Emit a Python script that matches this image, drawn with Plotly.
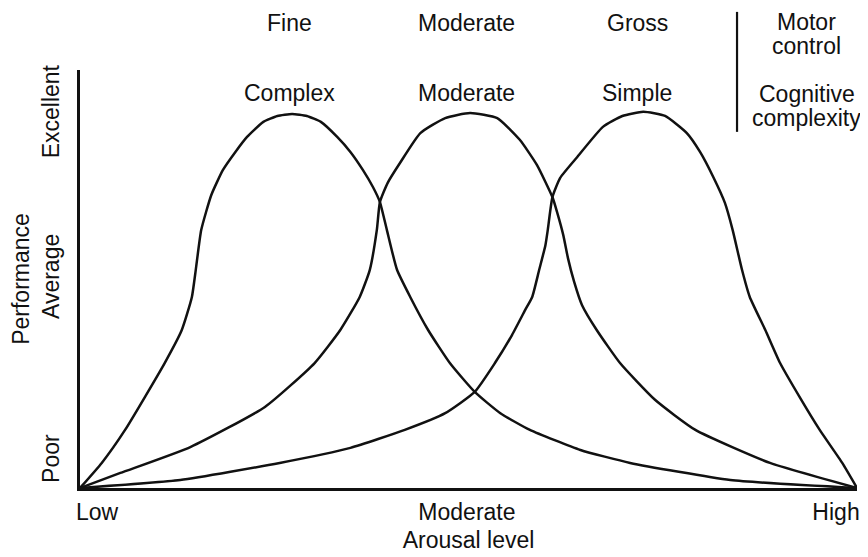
import plotly.graph_objects as go

# arousal (0 = low, 100 = high) vs performance (0 = poor, 100 = top of axis)
complex_x = [0, 2.8, 5.8, 10.9, 13.1, 14.4, 14.9, 15.6, 16.9, 18.4, 20.0, 21.5, 23.6, 25.4,
             27.3, 29.2, 31.0, 33.1, 34.8, 36.4, 37.7, 38.6, 39.5, 40.8, 42.5, 44.8, 47.6,
             50.8, 54.1, 57.9, 64.4, 70.8, 83.7, 100]
complex_y = [0, 6.0, 13.9, 29.9, 37.8, 45.7, 52.2, 61.7, 70.1, 76.1, 80.4, 84.0, 87.6, 89.0,
             89.5, 89.0, 87.6, 84.0, 80.4, 76.1, 72.0, 68.4, 61.7, 52.2, 45.7, 37.8, 29.9,
             23.0, 17.9, 13.9, 9.1, 6.0, 1.9, 0]

moderate_x = [0, 5.2, 14.2, 23.8, 30.2, 33.5, 36.0, 37.3, 38.2, 38.6, 39.6, 41.2, 43.8, 47.0,
              50.2, 53.7, 56.6, 58.8, 60.8, 61.4, 62.2, 62.8, 63.6, 64.6, 66.5, 69.5, 74.0,
              79.2, 88.8, 100]
moderate_y = [0, 3.6, 9.8, 19.4, 29.9, 37.8, 45.7, 52.2, 61.7, 68.4, 73.0, 77.8, 84.9, 88.5,
              89.7, 88.5, 83.3, 77.3, 69.6, 66.0, 60.5, 55.0, 49.3, 43.8, 37.8, 29.9, 21.1,
              13.9, 6.0, 0]

simple_x = [0, 12.9, 25.7, 34.8, 41.8, 47.0, 50.8, 53.4, 55.6, 57.3, 58.2, 59.1, 59.9, 60.2,
            60.8, 61.8, 64.0, 67.3, 69.8, 72.5, 75.3, 78.1, 79.8, 81.5, 83.0, 84.0, 85.2,
            86.2, 88.2, 90.1, 92.7, 95.2, 98.1, 100]
simple_y = [0, 1.9, 6.0, 9.6, 13.9, 17.9, 23.0, 29.9, 36.6, 42.6, 45.7, 52.2, 58.1, 61.7,
            69.6, 74.2, 79.2, 86.4, 89.0, 90.0, 89.0, 84.9, 80.4, 74.4, 68.2, 61.7, 52.2,
            45.7, 37.8, 29.9, 21.5, 13.9, 6.0, 0]

x_tickvals = [2.2, 49.8, 97.3]
x_ticktext = ["Low", "Moderate", "High"]
y_tickvals = [6.2, 49.8, 89.2]
y_ticktext = ["Poor", "Average", "Excellent"]

motor_labels = ["Fine", "Moderate", "Gross"]
cognitive_labels = ["Complex", "Moderate", "Simple"]
label_x = [27.0, 49.8, 71.7]

FONT = "Liberation Sans, Arial, Helvetica, sans-serif"
INK = "#111111"

fig = go.Figure()
for xs, ys in [(complex_x, complex_y), (moderate_x, moderate_y), (simple_x, simple_y)]:
    fig.add_trace(go.Scatter(x=xs, y=ys, mode="lines",
                             line=dict(color=INK, width=2.5, shape="spline", smoothing=0.5),
                             hoverinfo="skip", showlegend=False))

# column headings above the curves (y in paper units, plot top = 1)
for lx, top, mid in zip(label_x, motor_labels, cognitive_labels):
    fig.add_annotation(x=lx, xref="x", y=1.112, yref="paper", text=top)
    fig.add_annotation(x=lx, xref="x", y=0.945, yref="paper", text=mid)

for txt, yy in [("Motor", 1.115), ("control", 1.057), ("Cognitive", 0.943), ("complexity", 0.885)]:
    fig.add_annotation(x=0.9356, xref="paper", y=yy, yref="paper", text=txt)

fig.add_shape(type="line", xref="paper", yref="paper", x0=0.8456, x1=0.8456, y0=1.139, y1=0.852,
              line=dict(color=INK, width=2.2))

fig.update_annotations(showarrow=False, xanchor="center", yanchor="middle",
                       font=dict(family=FONT, size=23, color=INK))

# page body adds an 8px margin, so the figure is a little smaller than the window
fig.update_layout(
    width=860, height=549,
    margin=dict(l=72, r=11, t=62, b=69),
    paper_bgcolor="white", plot_bgcolor="white",
    font=dict(family=FONT, size=23, color=INK),
    showlegend=False,
)
fig.update_xaxes(range=[0, 100], showgrid=False, zeroline=False, automargin=False,
                 showline=True, linecolor=INK, linewidth=2.5,
                 tickvals=x_tickvals, ticktext=x_ticktext,
                 ticks="outside", ticklen=2, tickcolor="rgba(0,0,0,0)",
                 tickfont=dict(size=23),
                 title=dict(text="Arousal level", font=dict(size=23), standoff=8))
fig.update_yaxes(range=[0, 100], showgrid=False, zeroline=False, automargin=False,
                 showline=True, linecolor=INK, linewidth=2.5,
                 tickvals=y_tickvals, ticktext=y_ticktext, tickangle=-90,
                 ticks="outside", ticklen=9, tickcolor="rgba(0,0,0,0)",
                 tickfont=dict(size=23),
                 title=dict(text="Performance", font=dict(size=23), standoff=8))

fig.write_html("out.html")
